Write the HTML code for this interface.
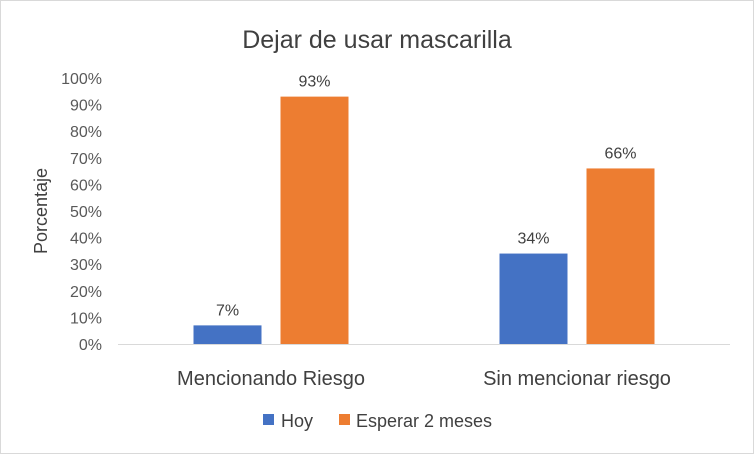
<!DOCTYPE html>
<html><head><meta charset="utf-8"><style>
html,body{margin:0;padding:0;background:#fff;}
svg{display:block;font-family:"Liberation Sans",sans-serif;}
</style></head><body>
<svg id="chart" width="754" height="454">
<rect x="0.5" y="0.5" width="753" height="453" fill="#fff" stroke="#d9d9d9"/>
<text x="377" y="48" text-anchor="middle" font-size="25" fill="#404040">Dejar de usar mascarilla</text>
<text transform="translate(47,211) rotate(-90)" text-anchor="middle" font-size="18" fill="#404040">Porcentaje</text>
<g id="yaxis"></g><g id="bars"></g>
<line x1="118" y1="344.5" x2="730" y2="344.5" stroke="#d9d9d9"/>
<g>
<rect x="263" y="414" width="11" height="11" fill="#4472c4"/>
<text x="281" y="427" font-size="18" fill="#404040">Hoy</text>
<rect x="339" y="414" width="11" height="11" fill="#ed7d31"/>
<text x="356" y="427" font-size="18" fill="#404040">Esperar 2 meses</text>
</g>
</svg>
<script>
const categories=["Mencionando Riesgo","Sin mencionar riesgo"];
const hoy=[7,34];
const esperar=[93,66];
const ticks=[0,10,20,30,40,50,60,70,80,90,100];
const NS="http://www.w3.org/2000/svg";
const y0=344,yTop=78,px0=118,px1=730;
const y=v=>y0-(v/100)*(y0-yTop);
const catW=(px1-px0)/categories.length;
const cx=i=>px0+catW*(i+0.5);
function mk(t,a,p){const e=document.createElementNS(NS,t);for(const k in a)e.setAttribute(k,a[k]);p.appendChild(e);return e;}
const ya=document.getElementById('yaxis'),bg=document.getElementById('bars');
ticks.forEach(t=>{const e=mk('text',{x:102,y:y(t)+6,'text-anchor':'end','font-size':16,fill:'#595959'},ya);


e.textContent=t+'%';});
const bw=68,gap=19;
categories.forEach((c,i)=>{
 const l=mk('text',{x:cx(i),y:385,'text-anchor':'middle','font-size':20,fill:'#404040'},bg);
 
 
 l.textContent=c;
 [[hoy,'#4472c4',-1,'hoy'],[esperar,'#ed7d31',1,'esperar']].forEach(([arr,col,s,nm])=>{
  const x=s<0?cx(i)-gap/2-bw:cx(i)+gap/2;
  const r=mk('rect',{x:x,y:y(arr[i]),width:bw,height:y0-y(arr[i]),fill:col},bg);
  
  
  const t=mk('text',{x:x+bw/2,y:y(arr[i])-10,'text-anchor':'middle','font-size':16,fill:'#404040'},bg);
  
  
  t.textContent=arr[i]+'%';
 });
});
</script>
</body></html>
